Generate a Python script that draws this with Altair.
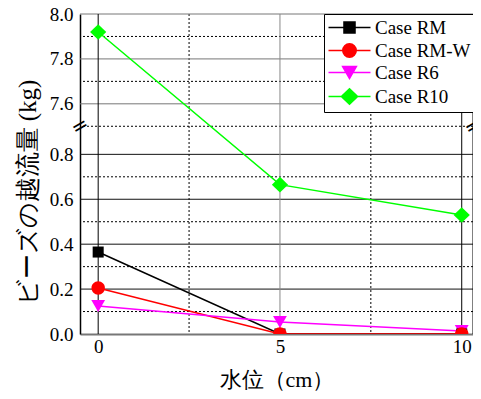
import altair as alt
import pandas as pd

# ---- data ----
x_levels = [0, 5, 10]
series_names = ["Case RM", "Case RM-W", "Case R6", "Case R10"]
case_rm = [0.365, 0.0, 0.0]
case_rm_w = [0.205, 0.0, 0.0]
case_r6 = [0.125, 0.053, 0.013]
case_r10 = [7.92, 0.665, 0.53]
colors = ["#000000", "#ff0000", "#ff00ff", "#00ff00"]

y_major = [0.0, 0.2, 0.4, 0.6, 0.8, 7.6, 7.8, 8.0]
y_grid_dark = [0.2, 0.4, 0.6, 0.8]
y_grid_gray = [7.6, 7.8, 8.0]
y_minor = [0.1, 0.3, 0.5, 0.7, 7.5, 7.7, 7.9]
x_major = [0, 5, 10]
x_grid_dark = [0, 10]
x_grid_gray = [5]
x_minor = [2.5, 7.5]

# broken axis: 0 .. BREAK_LOW  then  BREAK_HIGH .. Y_TOP
BREAK_LOW = 0.925
BREAK_HIGH = 7.5
Y_TOP = 8.0
X_MIN, X_MAX = -0.5, 10.31

SERIF = "Liberation Serif"

marker_paths = {
    "Case RM": "M-0.92,-0.92H0.92V0.92H-0.92Z",
    "Case RM-W": "M-1.12,0A1.12,1.12,0,1,0,1.12,0A1.12,1.12,0,1,0,-1.12,0Z",
    "Case R6": "M-1.15,-1.0L1.15,-1.0L0,1.0Z",
    "Case R10": "M-1.35,0L0,-1.3L1.35,0L0,1.3Z",
}
legend_paths = ["M-3.5,0H3.5" + marker_paths[s] for s in series_names]

rows = []
for name, vals in zip(series_names, [case_rm, case_rm_w, case_r6, case_r10]):
    for x, v in zip(x_levels, vals):
        rows.append({"series": name, "x": x, "v": v})
df = pd.DataFrame(rows)

to_disp = f"datum.v >= {BREAK_HIGH} ? datum.v - {BREAK_HIGH} + {BREAK_LOW} : datum.v"
y_values = [v if v < BREAK_HIGH else round(v - BREAK_HIGH + BREAK_LOW, 4) for v in y_major]

yscale = alt.Scale(domain=[0, BREAK_LOW + Y_TOP - BREAK_HIGH], nice=False, zero=False)
xscale = alt.Scale(domain=[X_MIN, X_MAX], nice=False, zero=False)

y_axis = alt.Axis(
    values=y_values,
    labelExpr=(f"datum.value > {BREAK_LOW} ? format(datum.value - {BREAK_LOW} + {BREAK_HIGH}, '.1f')"
               " : format(datum.value, '.1f')"),
    ticks=False, grid=False, labelPadding=7, labelFont=SERIF, labelFontSize=19, labelColor="black",
    domainColor="black", domainWidth=1.5,
    title="ビーズの越流量 (kg)", titleFont=SERIF, titleFontSize=25, titleFontWeight="normal",
    titleColor="black", titleX=-53, titleY=178, titleBaseline="middle", titleAlign="center",
)
x_axis = alt.Axis(
    values=x_major,
    ticks=False, grid=False, labelPadding=3, labelFont=SERIF, labelFontSize=19, labelColor="black",
    domainColor="#777777", domainWidth=2,
    title="水位（cm）", titleFont=SERIF, titleFontSize=22, titleFontWeight="normal",
    titleColor="black", titleY=45, titleBaseline="middle",
)

X = lambda f="x:Q": alt.X(f, scale=xscale, axis=x_axis)
Y = lambda f="d:Q": alt.Y(f, scale=yscale, axis=y_axis)


def vrules(vals, color, dash=None):
    kw = dict(color=color, strokeWidth=1)
    if dash:
        kw["strokeDash"] = dash
    return alt.Chart(pd.DataFrame({"x": vals})).mark_rule(**kw).encode(x=X())


def hrules(vals, color, dash=None):
    kw = dict(color=color, strokeWidth=1)
    if dash:
        kw["strokeDash"] = dash
    return alt.Chart(pd.DataFrame({"v": vals})).transform_calculate(d=to_disp).mark_rule(**kw).encode(y=Y())


grid_layers = [
    hrules(y_minor, "black", [2, 2]),
    vrules(x_minor, "black", [2, 2]),
    hrules(y_grid_dark, "#111111"),
    hrules(y_grid_gray, "#777777"),
    vrules(x_grid_gray, "#888888"),
    vrules(x_grid_dark + [X_MAX], "#000000"),
]

base = alt.Chart(df).transform_calculate(d=to_disp)

line_layers = []
for s, col in zip(series_names, colors):
    line_layers.append(
        base.transform_filter(alt.datum.series == s)
        .mark_line(strokeWidth=1.5, clip=True, color=col)
        .encode(x=X(), y=Y())
    )

draw_order = ["Case R6", "Case RM", "Case RM-W", "Case R10"]
marker_layers = []
for s in draw_order:
    col = colors[series_names.index(s)]
    marker_layers.append(
        base.transform_filter(alt.datum.series == s).mark_point(
            shape=marker_paths[s], filled=True, size=144, opacity=1, color=col, clip=True
        ).encode(x=X(), y=Y())
    )

breaks = alt.Chart(pd.DataFrame({"x": [X_MIN, X_MAX], "d": [BREAK_LOW, BREAK_LOW]})).mark_text(
    text="=", fontSize=20, angle=330, color="black", font="DejaVu Sans"
).encode(x=X(), y=Y())

leg = alt.Legend(
    title=None, orient="none", legendX=244, legendY=0, direction="vertical",
    fillColor="white", strokeColor="black", padding=4, rowPadding=2,
    labelFont=SERIF, labelFontSize=19, labelColor="black", labelLimit=300,
    symbolSize=144, symbolStrokeWidth=1.5, symbolOffset=12, labelOffset=16,
)
legend_layer = base.mark_point(
    filled=True, size=144, opacity=0, strokeWidth=1.5
).encode(
    x=X(), y=Y(),
    fill=alt.Fill("series:N", scale=alt.Scale(domain=series_names, range=colors), legend=leg),
    stroke=alt.Stroke("series:N", scale=alt.Scale(domain=series_names, range=colors), legend=leg),
    shape=alt.Shape("series:N", scale=alt.Scale(domain=series_names, range=legend_paths), legend=leg),
)

chart = alt.layer(*grid_layers, *line_layers, *marker_layers, breaks, legend_layer).properties(
    width=393, height=320,
    autosize=alt.AutoSizeParams(type="none"),
    padding={"left": 72, "top": 6, "right": 0, "bottom": 57},
    background="white",
).configure_view(stroke=None).configure_legend(symbolOpacity=1)

chart.save("out.html", embed_options={"renderer": "svg", "actions": False})
